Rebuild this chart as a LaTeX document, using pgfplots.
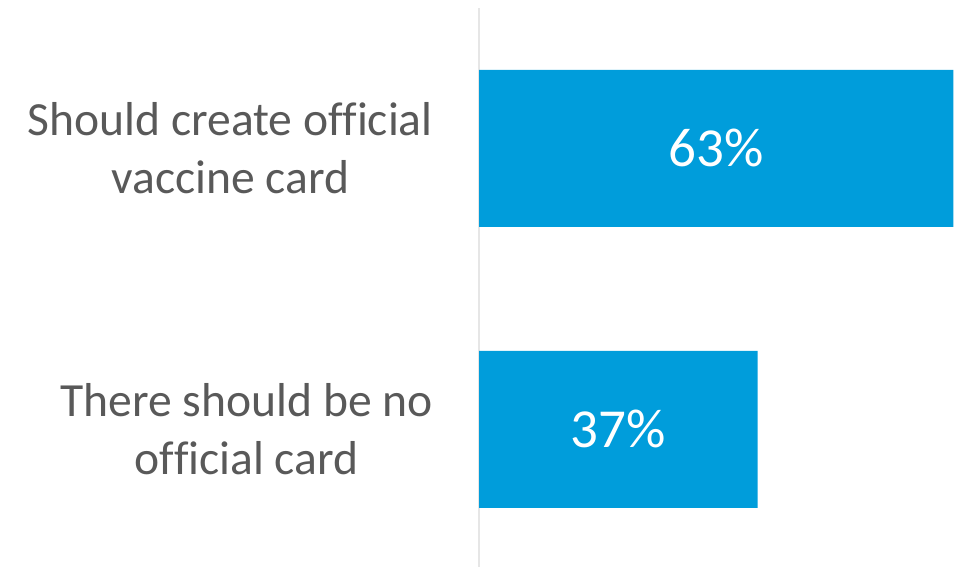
\documentclass[border=0pt]{standalone}
\usepackage{fontspec}
\setmainfont{Carlito}[Ligatures=NoCommon]
\usepackage{pgfplots}
\pgfplotsset{compat=1.18}
\definecolor{barblue}{RGB}{0,157,219}
\definecolor{txtgray}{RGB}{89,89,89}
\definecolor{axgray}{RGB}{230,230,230}
\begin{document}
\begin{tikzpicture}
\path[use as bounding box] (0,0) rectangle (957pt,567pt);
\begin{axis}[
  at={(479pt,0pt)}, anchor=south west,
  scale only axis, width=478pt, height=559pt,
  xmin=0, xmax=63.5, ymin=-0.49, ymax=1.5,
  axis x line=none,
  axis y line*=left,
  y axis line style={draw=axgray, line width=1.8pt, -},
  ytick={0,1},
  yticklabels={{There should be no\\official card},{Should create official\\vaccine card}},
  major tick length=0pt,
  yticklabel style={align=center, anchor=east, inner sep=0pt, xshift=-46pt,
    font=\fontsize{47.6pt}{58pt}\selectfont, text=txtgray},
  clip=false,
]
\addplot[xbar, bar width=157pt, fill=barblue, draw=none] coordinates {(63,1) (37,0)};
\addplot[draw=none, mark=none, nodes near coords, point meta=explicit symbolic,
  every node near coord/.append style={anchor=center, text=white, font=\fontsize{55pt}{62pt}\selectfont}]
  coordinates {(31.5,1) [63\%] (18.5,0) [37\%]};
\end{axis}
\end{tikzpicture}
\end{document}
